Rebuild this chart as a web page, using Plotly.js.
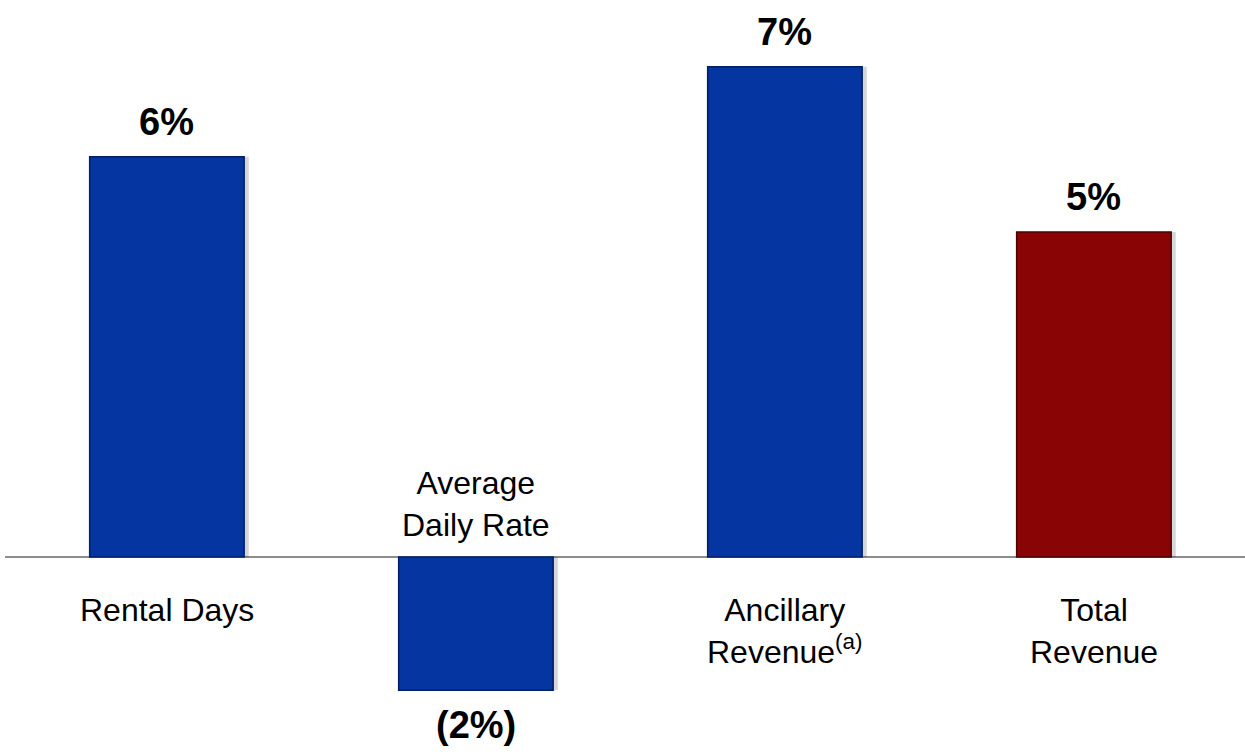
<!DOCTYPE html>
<html>
<head>
<meta charset="utf-8">
<script src="https://cdn.plot.ly/plotly-3.0.1.min.js"></script>
<style>html,body{margin:0;padding:0;background:#fff;}#chart{width:1245px;height:755px;}</style>
</head>
<body>
<div id="chart"></div>
<script>
const categories = ["Rental Days", "Average<br>Daily Rate", "Ancillary<br>Revenue<sup>(a)</sup>", "Total<br>Revenue"];
const values = [6.0, -2.0, 7.35, 4.87];
const valueLabels = ["6%", "(2%)", "7%", "5%"];
const barColors = ["#0535A0", "#0535A0", "#0535A0", "#880405"];
const edgeColors = ["#021F66", "#021F66", "#021F66", "#4E0102"];

const idx = categories.map((c, i) => i);

const shadow = {
  type: "bar", x: idx, y: values, width: 0.5, offset: -0.235,
  marker: {color: "rgba(0,0,0,0.16)", line: {width: 0}},
  hoverinfo: "skip", showlegend: false
};
const bars = {
  type: "bar", x: idx, y: values, width: 0.5,
  marker: {color: barColors, line: {color: edgeColors, width: 1.5}},
  showlegend: false
};

const annotations = [];
idx.forEach(i => {
  const v = values[i];
  annotations.push({
    x: i, y: v, xref: "x", yref: "y", text: valueLabels[i], showarrow: false,
    yanchor: v >= 0 ? "bottom" : "top", yshift: v >= 0 ? 12 : -12,
    font: {family: "Liberation Sans Narrow, Arial Narrow, sans-serif", size: 38, color: "#000", weight: "bold"}
  });
  annotations.push({
    x: i, y: 0, xref: "x", yref: "y", text: categories[i], showarrow: false,
    yanchor: v >= 0 ? "top" : "bottom", yshift: v >= 0 ? -33 : 12,
    font: {family: "Liberation Sans, Arial, sans-serif", size: 32, color: "#000"}
  });
});

const layout = {
  width: 1245, height: 755,
  margin: {l: 5, r: 0, t: 0, b: 0},
  paper_bgcolor: "#fff", plot_bgcolor: "#fff",
  barmode: "overlay",
  xaxis: {range: [-0.524, 3.489], showticklabels: false, showgrid: false, zeroline: false, showline: false, fixedrange: true},
  yaxis: {range: [-2.97, 8.35], showticklabels: false, showgrid: false, zeroline: true, zerolinecolor: "#8c8c8c", zerolinewidth: 2.5, showline: false},
  annotations: annotations
};

Plotly.newPlot("chart", [shadow, bars], layout, {displayModeBar: false, staticPlot: true});
</script>
</body>
</html>
